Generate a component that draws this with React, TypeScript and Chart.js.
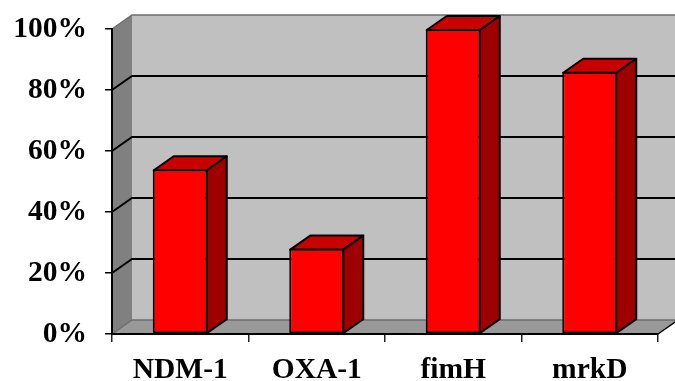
import React, { useEffect, useRef } from 'react';
import { Chart, registerables } from 'chart.js';

Chart.register(...registerables);

const categories = ['NDM-1', 'OXA-1', 'fimH', 'mrkD'];
const values = [54, 28, 100, 86];
const yMin = 0;
const yMax = 100;
const yStep = 20;
const gridValues = [20, 40, 60, 80];

const DX = 20;
const DY = -14;

function poly(ctx: CanvasRenderingContext2D, pts: number[][], fill: string | null, stroke: string | null, lw = 2) {
  ctx.beginPath();
  ctx.moveTo(pts[0][0], pts[0][1]);
  for (let i = 1; i < pts.length; i++) ctx.lineTo(pts[i][0], pts[i][1]);
  ctx.closePath();
  if (fill) {
    ctx.fillStyle = fill;
    ctx.fill();
  }
  if (stroke) {
    ctx.strokeStyle = stroke;
    ctx.lineWidth = lw;
    ctx.stroke();
  }
}

const wallsPlugin = {
  id: 'walls3d',
  beforeDraw(chart: any) {
    const { ctx, chartArea, scales } = chart;
    const ys = scales.y;
    const L = chartArea.left;
    const R = chartArea.right;
    const T = ys.getPixelForValue(yMax);
    const B = ys.getPixelForValue(yMin);
    ctx.save();
    ctx.lineJoin = 'miter';
    // back wall
    poly(ctx, [[L + DX, T + DY], [R + DX, T + DY], [R + DX, B + DY], [L + DX, B + DY]], '#C0C0C0', null);
    // side wall
    poly(ctx, [[L, T], [L + DX, T + DY], [L + DX, B + DY], [L, B]], '#808080', null);
    // floor
    poly(ctx, [[L, B], [R, B], [R + DX, B + DY], [L + DX, B + DY]], '#999999', null);
    // top edges of walls (gray)
    ctx.strokeStyle = '#6e6e6e';
    ctx.lineWidth = 1.5;
    ctx.beginPath();
    ctx.moveTo(L, T);
    ctx.lineTo(L + DX, T + DY);
    ctx.lineTo(R + DX, T + DY);
    ctx.stroke();
    // floor back edge
    ctx.beginPath();
    ctx.moveTo(L, B);
    ctx.lineTo(L + DX, B + DY);
    ctx.lineTo(R + DX, B + DY);
    ctx.stroke();
    // floor right diagonal
    ctx.strokeStyle = '#000';
    ctx.lineWidth = 1.5;
    ctx.beginPath();
    ctx.moveTo(R, B);
    ctx.lineTo(R + DX, B + DY);
    ctx.stroke();
    // grid lines on walls
    ctx.strokeStyle = '#000';
    ctx.lineWidth = 2;
    for (const v of gridValues) {
      const yy = ys.getPixelForValue(v);
      ctx.beginPath();
      ctx.moveTo(L, yy);
      ctx.lineTo(L + DX, yy + DY);
      ctx.lineTo(R + DX, yy + DY);
      ctx.stroke();
    }
    ctx.restore();
  },
  afterDatasetsDraw(chart: any) {
    const { ctx } = chart;
    const meta = chart.getDatasetMeta(0);
    ctx.save();
    ctx.lineJoin = 'round';
    for (const el of meta.data) {
      const { x, y, base, width } = el.getProps(['x', 'y', 'base', 'width'], true);
      const left = x - width / 2 + 1;
      const right = x + width / 2 - 1;
      const top = y + 1;
      const bot = base;
      poly(ctx, [[left, top], [right, top], [right + DX, top + DY], [left + DX, top + DY]], '#C80000', '#000', 2);
      poly(ctx, [[right, top], [right + DX, top + DY], [right + DX, bot + DY], [right, bot]], '#9E0000', '#000', 2);
    }
    ctx.restore();
  },
};

export default function App() {
  const ref = useRef<HTMLCanvasElement | null>(null);
  useEffect(() => {
    document.body.style.margin = '0';
    document.body.style.background = '#fff';
    if (!ref.current) return;
    const chart = new Chart(ref.current, {
      type: 'bar',
      data: {
        labels: categories,
        datasets: [
          {
            data: values,
            backgroundColor: '#FF0000',
            borderColor: '#000',
            borderWidth: 2,
            borderSkipped: false,
            categoryPercentage: 1,
            barPercentage: 0.403,
          },
        ],
      },
      options: {
        animation: false,
        responsive: true,
        maintainAspectRatio: false,
        layout: { padding: { top: 29, right: 17, left: 0, bottom: 0 } },
        plugins: { legend: { display: false }, tooltip: { enabled: false } },
        scales: {
          x: {
            offset: true,
            grid: { offset: true, drawOnChartArea: false, drawTicks: true, tickLength: 8, color: '#222', lineWidth: 1.5 },
            border: { display: true, color: '#000', width: 2 },
            ticks: {
              color: '#000',
              padding: 11,
              maxRotation: 0,
              autoSkip: false,
              font: { family: 'Liberation Serif', size: 29.5, weight: 'bold' },
            },
            afterFit: (s: any) => {
              s.height = 47;
              s.paddingLeft = 0;
              s.paddingRight = 0;
            },
          },
          y: {
            min: yMin,
            max: yMax,
            grid: { drawOnChartArea: false, drawTicks: true, tickLength: 7, color: '#000', lineWidth: 1.5 },
            border: { display: true, color: '#000', width: 2 },
            ticks: {
              stepSize: yStep,
              color: '#000',
              padding: 18,
              callback: (v: any) => v + '%',
              font: { family: 'Liberation Serif', size: 29.5, weight: 'bold' },
            },
            afterFit: (s: any) => {
              s.width = 112;
              s.paddingTop = 0;
              s.paddingBottom = 0;
            },
          },
        },
      },
      plugins: [wallsPlugin],
    });
    return () => chart.destroy();
  }, []);
  return (
    <div style={{ width: 675, height: 381, position: 'relative' }}>
      <canvas ref={ref} />
    </div>
  );
}
